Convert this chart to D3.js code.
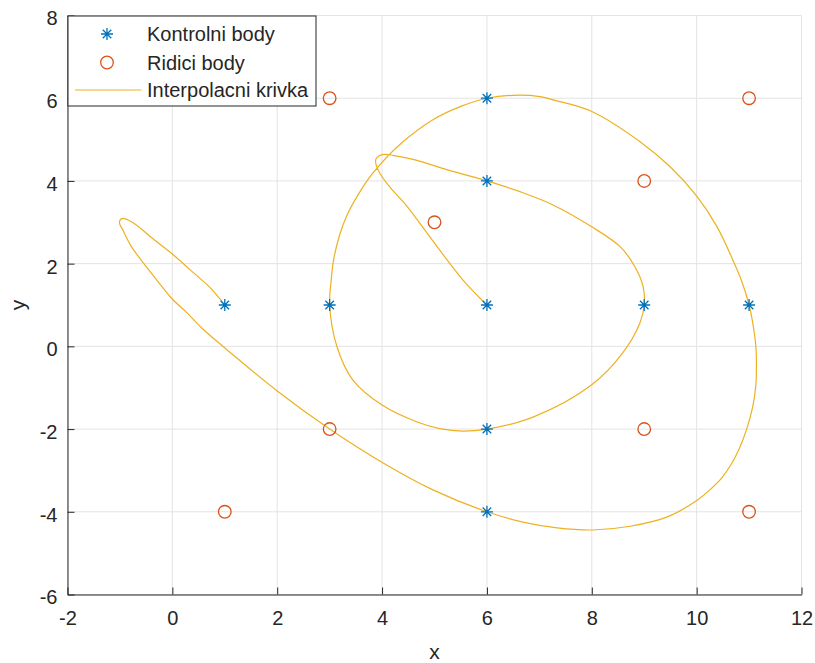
<!DOCTYPE html>
<html>
<head>
<meta charset="utf-8">
<script src="https://cdn.jsdelivr.net/npm/d3@7"></script>
<style>
  body { margin: 0; background: #fff; }
  #figure { width: 815px; height: 663px; }
  text { font-family: "Liberation Sans", Arial, sans-serif; fill: #262626; }
</style>
</head>
<body>
<div id="figure"></div>
<script>
// control points (stars)
const ctrlX = [1, 3, 6, 9, 11, 6, 6, 6, 6];
const ctrlY = [1, 1, 1, 1, 1, 6, 4, -2, -4];

// driving points (circles)
const drvX = [3, 11, 9, 5, 3, 9, 1, 11];
const drvY = [6, 6, 4, 3, -2, -2, -4, -4];

// interpolating curve in drawing order
const curveX = [6, 5.54, 4.95, 4.48, 4.15, 3.96, 3.89, 3.88, 3.94, 4.04, 4.21, 4.59, 5.35, 6,
  6.63, 7.26, 8.0, 8.54, 8.82, 8.98, 9, 8.92, 8.59, 8.0, 6.88, 6, 5.54, 5.10, 4.67, 4.0, 3.44,
  3.14, 3, 3.03, 3.07, 3.18, 3.32, 3.53, 3.82, 4.34, 4.97, 5.54, 6, 6.5, 7.01, 7.26, 8.0, 8.92,
  9.49, 10.01, 10.39, 10.69, 10.85, 11, 11.06, 11.13, 11.14, 11.13, 11.07, 10.95, 10.80, 10.65,
  10.48, 10.27, 10.01, 9.43, 8.73, 8.02, 7.34, 6.69, 6, 4.97, 4.02, 3, 2.0, 1.04, 0.58, 0.28,
  -0.02, -0.29, -0.55, -0.79, -0.94, -1.01, -0.96, -0.75, -0.37, 0.01, 0.34, 0.72, 1];
const curveY = [1, 1.61, 2.58, 3.38, 3.85, 4.18, 4.37, 4.52, 4.60, 4.64, 4.62, 4.52, 4.23, 4,
  3.74, 3.42, 2.89, 2.41, 1.93, 1.44, 1, 0.57, -0.16, -0.93, -1.71, -2, -2.05, -1.99, -1.83, -1.42,
  -0.81, -0.01, 1, 1.61, 2.05, 2.65, 3.14, 3.64, 4.18, 4.88, 5.48, 5.82, 6, 6.07, 6.04, 5.96, 5.68,
  4.95, 4.35, 3.62, 2.89, 2.09, 1.61, 1, 0.64, -0.01, -0.45, -0.93, -1.46, -2.02, -2.51, -2.87,
  -3.18, -3.45, -3.72, -4.13, -4.35, -4.44, -4.39, -4.25, -4, -3.47, -2.82, -2, -1.08, -0.08, 0.42,
  0.81, 1.17, 1.59, 2.01, 2.43, 2.80, 3.0, 3.09, 2.99, 2.60, 2.22, 1.85, 1.42, 1];

const xTicks = [-2, 0, 2, 4, 6, 8, 10, 12];
const yTicks = [-6, -4, -2, 0, 2, 4, 6, 8];

const legendLabels = ["Kontrolni body", "Ridici body", "Interpolacni krivka"];

const blue = "#0072BD", red = "#D95319", gold = "#EDB120", axisCol = "#262626";

const plotL = 67.5, plotR = 801.5, plotT = 15.5, plotB = 594.5;

const svg = d3.select("#figure").append("svg")
  .attr("width", 815)
  .attr("height", 663);

const x = d3.scaleLinear().domain([-2, 12]).range([plotL, plotR]);
const y = d3.scaleLinear().domain([-6, 8]).range([plotB, plotT]);

// grid
svg.append("g")
  .selectAll("line")
  .data(xTicks)
  .join("line")
  .attr("x1", d => x(d)).attr("x2", d => x(d))
  .attr("y1", plotT).attr("y2", plotB)
  .attr("stroke", "#e3e3e3").attr("stroke-width", 1);

svg.append("g")
  .selectAll("line")
  .data(yTicks)
  .join("line")
  .attr("x1", plotL).attr("x2", plotR)
  .attr("y1", d => y(d)).attr("y2", d => y(d))
  .attr("stroke", "#e3e3e3").attr("stroke-width", 1);

// axes (plain hyphen for negatives, like the original)
const fmt = d => String(d);

const xAxis = svg.append("g")
  .attr("transform", "translate(0," + plotB + ")")
  .call(d3.axisBottom(x).tickValues(xTicks).tickFormat(fmt)
    .tickSizeInner(-7).tickSizeOuter(0).tickPadding(16));

const yAxis = svg.append("g")
  .attr("transform", "translate(" + plotL + ",0)")
  .call(d3.axisLeft(y).tickValues(yTicks).tickFormat(fmt)
    .tickSizeInner(-7).tickSizeOuter(0).tickPadding(10));

[xAxis, yAxis].forEach(a => {
  a.select(".domain").attr("stroke", axisCol).attr("stroke-width", 1);
  a.selectAll(".tick line").attr("stroke", axisCol);
  a.selectAll(".tick text")
    .attr("font-size", 20)
    .attr("font-family", "Liberation Sans, Arial, sans-serif")
    .attr("fill", axisCol);
});
yAxis.selectAll(".tick text").attr("dy", "0.47em");

// axis labels
svg.append("text")
  .attr("x", (plotL + plotR) / 2).attr("y", 659)
  .attr("text-anchor", "middle")
  .attr("font-size", 21)
  .text("x");

svg.append("text")
  .attr("transform", "translate(25," + (plotT + plotB) / 2 + ") rotate(-90)")
  .attr("text-anchor", "middle")
  .attr("font-size", 21)
  .text("y");

// curve
const line = d3.line()
  .x(d => x(d[0]))
  .y(d => y(d[1]))
  .curve(d3.curveCatmullRom.alpha(0.5));

svg.append("path")
  .datum(d3.zip(curveX, curveY))
  .attr("d", line)
  .attr("fill", "none")
  .attr("stroke", gold)
  .attr("stroke-width", 1.2);

// star marker
function starPath(r) {
  const d = r * 0.7071;
  return "M" + (-r) + ",0L" + r + ",0M0," + (-r) + "L0," + r +
    "M" + (-d) + "," + (-d) + "L" + d + "," + d +
    "M" + (-d) + "," + d + "L" + d + "," + (-d);
}

svg.append("g")
  .selectAll("path")
  .data(d3.zip(ctrlX, ctrlY))
  .join("path")
  .attr("transform", d => "translate(" + x(d[0]) + "," + y(d[1]) + ")")
  .attr("d", starPath(6))
  .attr("stroke", blue)
  .attr("stroke-width", 1.3)
  .attr("fill", "none");

svg.append("g")
  .selectAll("circle")
  .data(d3.zip(drvX, drvY))
  .join("circle")
  .attr("cx", d => x(d[0]))
  .attr("cy", d => y(d[1]))
  .attr("r", 6.3)
  .attr("stroke", red)
  .attr("stroke-width", 1.3)
  .attr("fill", "none");

// legend
const lg = svg.append("g");
lg.append("rect")
  .attr("x", 68).attr("y", 16)
  .attr("width", 248).attr("height", 90)
  .attr("fill", "#fff")
  .attr("stroke", axisCol)
  .attr("stroke-width", 1);

const rowY = [34, 62.5, 90];

lg.append("path")
  .attr("transform", "translate(107," + rowY[0] + ")")
  .attr("d", starPath(6))
  .attr("stroke", blue).attr("stroke-width", 1.3).attr("fill", "none");

lg.append("circle")
  .attr("cx", 107).attr("cy", rowY[1]).attr("r", 6.3)
  .attr("stroke", red).attr("stroke-width", 1.3).attr("fill", "none");

lg.append("line")
  .attr("x1", 75).attr("x2", 141.5)
  .attr("y1", rowY[2]).attr("y2", rowY[2])
  .attr("stroke", gold).attr("stroke-width", 1.2);

lg.selectAll("text")
  .data(legendLabels)
  .join("text")
  .attr("x", 147)
  .attr("y", (d, i) => rowY[i])
  .attr("dy", "0.35em")
  .attr("font-size", 20)
  .text(d => d);
</script>
</body>
</html>
